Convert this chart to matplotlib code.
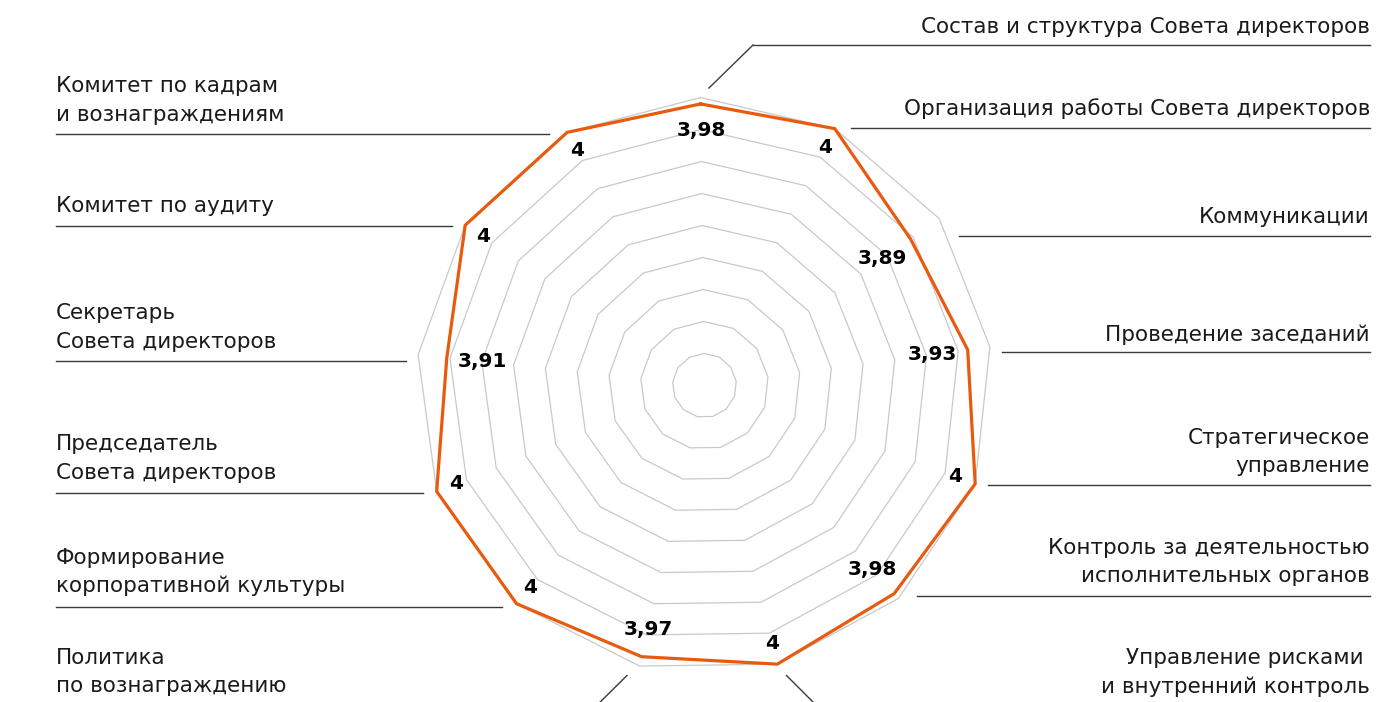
import numpy as np
import matplotlib
matplotlib.use('Agg')
import matplotlib.pyplot as plt
from matplotlib.lines import Line2D

categories = [
    'Состав и структура Совета директоров',
    'Организация работы Совета директоров',
    'Коммуникации',
    'Проведение заседаний',
    'Стратегическое\nуправление',
    'Контроль за деятельностью\nисполнительных органов',
    'Управление рисками \nи внутренний контроль',
    'Политика\nпо вознаграждению',
    'Формирование\nкорпоративной культуры',
    'Председатель\nСовета директоров',
    'Секретарь\nСовета директоров',
    'Комитет по аудиту',
    'Комитет по кадрам\nи вознаграждениям',
]
scores = [3.98, 4, 3.89, 3.93, 4, 3.98, 4, 3.97, 4, 4, 3.91, 4, 4]
r_min, r_max = 3.1, 4.0
grid_levels = [3.2, 3.3, 3.4, 3.5, 3.6, 3.7, 3.8, 3.9, 4.0]

W, H = 1378, 702
ORANGE = '#e85a0e'
GRID = '#c9c9c9'
LEADER = '#3a3a3a'

# label layout in pixels (x, first baseline, ha, leader line [x0, x1, y], extra diagonal)
layout = [
    (1370, 33, 'right', (753, 1370, 45), [(753, 45), (709, 88)]),
    (1370, 115, 'right', (851, 1370, 127.5), None),
    (1370, 222.5, 'right', (959, 1370, 236), None),
    (1370, 340.5, 'right', (1002, 1370, 351.5), None),
    (1370, 443.5, 'right', (988, 1370, 485), None),
    (1370, 553.5, 'right', (917, 1370, 595.5), None),
    (1370, 664, 'right', None, [(786.5, 675.5), (832, 721)]),
    (56, 663.5, 'left', None, [(627, 675.5), (581, 721)]),
    (56, 563.5, 'left', (56, 502, 606.5), None),
    (56, 450.5, 'left', (56, 423, 492.5), None),
    (56, 319, 'left', (56, 406, 361), None),
    (56, 212.5, 'left', (56, 452, 226), None),
    (56, 92.5, 'left', (56, 549, 133.5), None),
]

def fx(x):
    return x / W

def fy(y):
    return 1 - y / H

fig = plt.figure(figsize=(W / 100, H / 100), dpi=100)
fig.patch.set_facecolor('white')

cx, cy, R = 704.5, 385.5, 288
ax = fig.add_axes([fx(cx - R), fy(cy + R), 2 * R / W, 2 * R / H], projection='polar')
ax.set_theta_direction(-1)
ax.set_theta_offset(np.pi / 2 + np.radians(0.8))
ax.set_ylim(r_min, r_max)
ax.grid(False)
ax.spines['polar'].set_visible(False)
ax.set_xticks([])
ax.set_yticks([])
ax.patch.set_alpha(0)

n = len(categories)
angles = np.linspace(0, 2 * np.pi, n, endpoint=False)
closed = np.append(angles, angles[0])

for lvl in grid_levels:
    ax.plot(closed, [lvl] * (n + 1), color=GRID, lw=0.9, clip_on=False, zorder=1)

ax.plot(closed, scores + scores[:1], color=ORANGE, lw=2.3, clip_on=False,
        solid_joinstyle='miter', zorder=3)

# value labels, pushed inward along each spoke
for a, v in zip(angles, scores):
    txt = f'{v:g}'.replace('.', ',')
    a_disp = a - np.radians(0.8)
    if len(txt) > 1:
        d = 26 + 10 * abs(np.sin(a_disp))
    else:
        d = 21
    ax.annotate(txt, xy=(a, v), xytext=(-d * np.sin(a_disp), -d * np.cos(a_disp)),
                textcoords='offset pixels', ha='center', va='center',
                fontsize=14.5, fontweight='bold', color='black', zorder=4,
                annotation_clip=False)

# category labels with leader lines
for name, (x, yb, ha, hline, diag) in zip(categories, layout):
    for i, part in enumerate(name.split('\n')):
        fig.text(fx(x), fy(yb + i * 28.8), part, ha=ha, va='baseline',
                 fontsize=15.5, color='#1a1a1a')
    if hline is not None:
        x0, x1, y = hline
        fig.add_artist(Line2D([fx(x0), fx(x1)], [fy(y), fy(y)],
                              color=LEADER, lw=1.0))
    if diag is not None:
        (x0, y0), (x1, y1) = diag
        fig.add_artist(Line2D([fx(x0), fx(x1)], [fy(y0), fy(y1)],
                              color=LEADER, lw=1.0))

fig.savefig('out.png', dpi=100, facecolor='white')
